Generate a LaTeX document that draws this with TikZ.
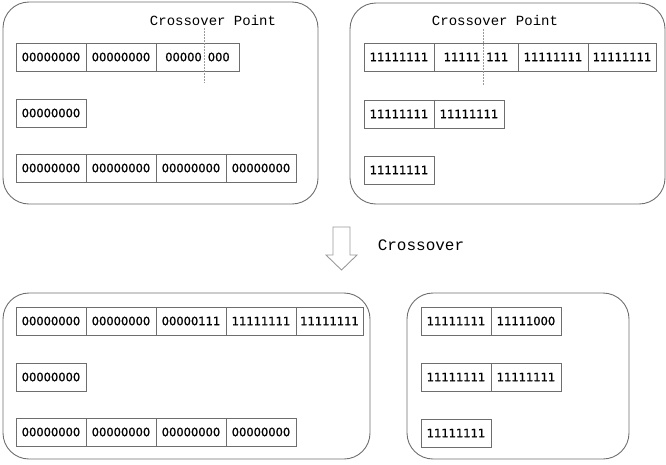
\documentclass[tikz,border=0pt]{standalone}
\usepackage{fontspec}
\newfontfamily\cellfont[FakeBold=1.2]{DejaVu Sans}
\newfontfamily\labelfont{Liberation Mono}
\usetikzlibrary{positioning}

\definecolor{edgegray}{HTML}{6E6E6E}
\definecolor{cutgray}{HTML}{9A9A9A}

\tikzset{
    pool/.style={draw=edgegray, line width=0.9pt, rounded corners=26pt},
    cell/.style={draw=edgegray, line width=0.8pt, minimum width=70pt, minimum height=28pt,
        inner sep=0pt, outer sep=0pt, font=\cellfont\fontsize{11.5}{12}\selectfont},
    widecell/.style={cell, minimum width=84pt},
    cut/.style={draw=cutgray, line width=0.9pt, densely dashed, dash pattern=on 2pt off 1pt},
    tag/.style={font=\labelfont\fontsize{14}{15}\selectfont, fill=white, inner sep=1pt},
}

\begin{document}
\begin{tikzpicture}[x=1pt, y=-1pt]

\useasboundingbox (0, 0) rectangle (666, 464);

% containers
\draw [pool] (3, 2) rectangle (318, 204);
\draw [pool] (350, 3) rectangle (665, 204);
\draw [pool] (3, 293) rectangle (370, 459);
\draw [pool] (407, 293) rectangle (629, 459);


% top left
\node [cell, anchor=north west] (p1a) at (16, 43) {00000000};
\node [cell, right=0pt of p1a] (p1b) {00000000};
\node [cell, minimum width=83pt, right=0pt of p1b] (p1c) {00000\hspace{6pt}000};

\node [cell, anchor=north west] (p2a) at (16, 99) {00000000};

\node [cell, anchor=north west] (p3a) at (16, 154) {00000000};
\node [cell, right=0pt of p3a] (p3b) {00000000};
\node [cell, right=0pt of p3b] (p3c) {00000000};
\node [cell, right=0pt of p3c] (p3d) {00000000};

\coordinate (cutL top) at (204, 28);
\coordinate (cutL bot) at (204, 83);
\draw [cut] (cutL top) -- (cutL bot);
\node [tag] (tagL) at (213, 20) {Crossover Point};


% top right
\node [cell, anchor=north west] (q1a) at (364, 43) {11111111};
\node [widecell, right=0pt of q1a] (q1b) {11111\hspace{6pt}111};
\node [cell, right=0pt of q1b] (q1c) {11111111};
\node [cell, minimum width=68pt, right=0pt of q1c] (q1d) {11111111};

\node [cell, anchor=north west] (q2a) at (364, 100) {11111111};
\node [cell, right=0pt of q2a] (q2b) {11111111};

\node [cell, anchor=north west] (q3a) at (364, 156) {11111111};

\coordinate (cutR top) at (483, 29);
\coordinate (cutR bot) at (483, 85);
\draw [cut] (cutR top) -- (cutR bot);
\node [tag] (tagR) at (495, 20) {Crossover Point};


% arrow
\draw [draw=cutgray, line width=0.9pt, line join=miter]
    (333, 227) -- (350, 227) -- (350, 255) -- (357, 255)
    -- (341.5, 270) -- (326, 255) -- (333, 255) -- cycle;
\node [tag, font=\labelfont\fontsize{16}{17}\selectfont] (step) at (421, 245) {Crossover};


% bottom left
\node [cell, anchor=north west] (r1a) at (16, 307) {00000000};
\node [cell, right=0pt of r1a] (r1b) {00000000};
\node [cell, right=0pt of r1b] (r1c) {00000111};
\node [cell, right=0pt of r1c] (r1d) {11111111};
\node [cell, minimum width=67pt, right=0pt of r1d] (r1e) {11111111};

\node [cell, anchor=north west] (r2a) at (16, 363) {00000000};

\node [cell, anchor=north west] (r3a) at (16, 418) {00000000};
\node [cell, right=0pt of r3a] (r3b) {00000000};
\node [cell, right=0pt of r3b] (r3c) {00000000};
\node [cell, right=0pt of r3c] (r3d) {00000000};


% bottom right
\node [cell, anchor=north west] (s1a) at (421, 307) {11111111};
\node [cell, right=0pt of s1a] (s1b) {11111000};

\node [cell, anchor=north west] (s2a) at (421, 363) {11111111};
\node [cell, right=0pt of s2a] (s2b) {11111111};

\node [cell, anchor=north west] (s3a) at (421, 419) {11111111};

\end{tikzpicture}
\end{document}
